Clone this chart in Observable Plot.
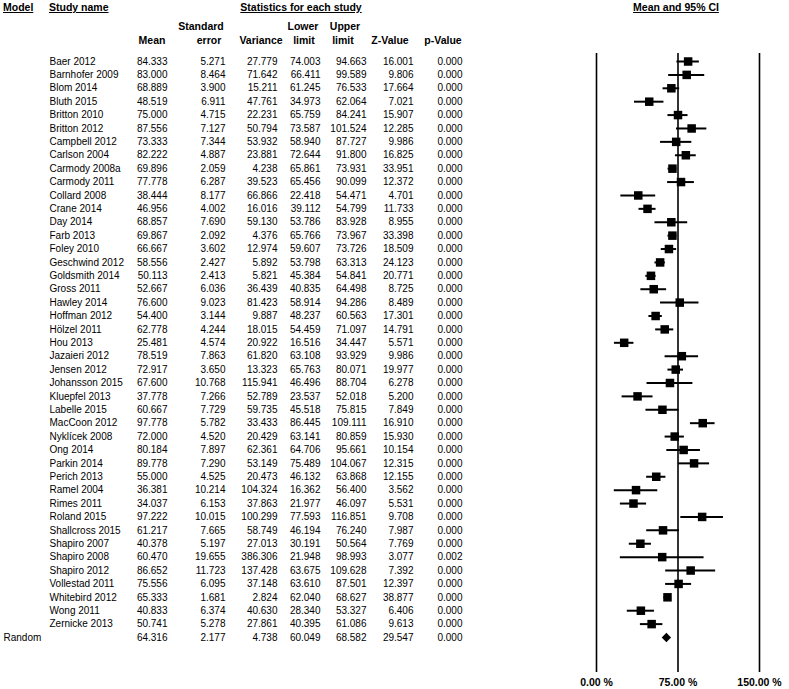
<!DOCTYPE html>
<html><head><meta charset="utf-8">
<script src="https://cdn.jsdelivr.net/npm/d3@7"></script>
<script src="https://cdn.jsdelivr.net/npm/@observablehq/plot@0.6"></script>
<style>
body{margin:0;background:#fff;font-family:"Liberation Sans",Arial,sans-serif;}
#wrap{position:relative;width:789px;height:689px;overflow:hidden;}
#hdr{position:relative;height:48px;width:789px;}
#hdr div{position:absolute;font-size:10.5px;font-weight:bold;line-height:12px;white-space:nowrap;color:#000}
#hdr .u{text-decoration:underline}
#hdr .c{transform:translateX(-50%)}
#plots{display:flex;}
#plots svg{display:block}
g[aria-label="x-axis tick label"] text{font-weight:bold;font-size:10.5px}
</style></head><body>
<div id="wrap"><div id="hdr"></div><div id="plots"></div></div>
<script>
// ---- data ----
const studies = ["Baer 2012","Barnhofer 2009","Blom 2014","Bluth 2015","Britton 2010","Britton 2012","Campbell 2012","Carlson 2004","Carmody 2008a","Carmody 2011","Collard 2008","Crane 2014","Day 2014","Farb 2013","Foley 2010","Geschwind 2012","Goldsmith 2014","Gross 2011","Hawley 2014","Hoffman 2012","Hölzel 2011","Hou 2013","Jazaieri 2012","Jensen 2012","Johansson 2015","Kluepfel 2013","Labelle 2015","MacCoon 2012","Nyklícek 2008","Ong 2014","Parkin 2014","Perich 2013","Ramel 2004","Rimes 2011","Roland 2015","Shallcross 2015","Shapiro 2007","Shapiro 2008","Shapiro 2012","Vollestad 2011","Whitebird 2012","Wong 2011","Zernicke 2013"];
const means = [84.333,83.000,68.889,48.519,75.000,87.556,73.333,82.222,69.896,77.778,38.444,46.956,68.857,69.867,66.667,58.556,50.113,52.667,76.600,54.400,62.778,25.481,78.519,72.917,67.600,37.778,60.667,97.778,72.000,80.184,89.778,55.000,36.381,34.037,97.222,61.217,40.378,60.470,86.652,75.556,65.333,40.833,50.741];
const stdErrors = [5.271,8.464,3.900,6.911,4.715,7.127,7.344,4.887,2.059,6.287,8.177,4.002,7.690,2.092,3.602,2.427,2.413,6.036,9.023,3.144,4.244,4.574,7.863,3.650,10.768,7.266,7.729,5.782,4.520,7.897,7.290,4.525,10.214,6.153,10.015,7.665,5.197,19.655,11.723,6.095,1.681,6.374,5.278];
const variances = [27.779,71.642,15.211,47.761,22.231,50.794,53.932,23.881,4.238,39.523,66.866,16.016,59.130,4.376,12.974,5.892,5.821,36.439,81.423,9.887,18.015,20.922,61.820,13.323,115.941,52.789,59.735,33.433,20.429,62.361,53.149,20.473,104.324,37.863,100.299,58.749,27.013,386.306,137.428,37.148,2.824,40.630,27.861];
const lowerLimits = [74.003,66.411,61.245,34.973,65.759,73.587,58.940,72.644,65.861,65.456,22.418,39.112,53.786,65.766,59.607,53.798,45.384,40.835,58.914,48.237,54.459,16.516,63.108,65.763,46.496,23.537,45.518,86.445,63.141,64.706,75.489,46.132,16.362,21.977,77.593,46.194,30.191,21.948,63.675,63.610,62.040,28.340,40.395];
const upperLimits = [94.663,99.589,76.533,62.064,84.241,101.524,87.727,91.800,73.931,90.099,54.471,54.799,83.928,73.967,73.726,63.313,54.841,64.498,94.286,60.563,71.097,34.447,93.929,80.071,88.704,52.018,75.815,109.111,80.859,95.661,104.067,63.868,56.400,46.097,116.851,76.240,50.564,98.993,109.628,87.501,68.627,53.327,61.086];
const zValues = [16.001,9.806,17.664,7.021,15.907,12.285,9.986,16.825,33.951,12.372,4.701,11.733,8.955,33.398,18.509,24.123,20.771,8.725,8.489,17.301,14.791,5.571,9.986,19.977,6.278,5.200,7.849,16.910,15.930,10.154,12.315,12.155,3.562,5.531,9.708,7.987,7.769,3.077,7.392,12.397,38.877,6.406,9.613];
const pValues = [0.000,0.000,0.000,0.000,0.000,0.000,0.000,0.000,0.000,0.000,0.000,0.000,0.000,0.000,0.000,0.000,0.000,0.000,0.000,0.000,0.000,0.000,0.000,0.000,0.000,0.000,0.000,0.000,0.000,0.000,0.000,0.000,0.000,0.000,0.000,0.000,0.000,0.002,0.000,0.000,0.000,0.000,0.000];
// pooled (random effects)
const pooledModel = "Random";
const pooled = {mean:64.316, se:2.177, variance:4.738, lower:60.049, upper:68.582, z:29.547, p:0.000};
const xTicks = [0, 75, 150];

// ---- rows (row index drives the vertical position) ----
const rows = studies.map((s,i)=>({row:i, model:"", study:s, mean:means[i], se:stdErrors[i], variance:variances[i], lower:lowerLimits[i], upper:upperLimits[i], z:zValues[i], p:pValues[i]}));
const pooledRow = {row:studies.length, model:pooledModel, study:"", ...pooled};
const allRows = [...rows, pooledRow];

// ---- layout ----
const H = 641;
const yScale = {domain:[0, allRows.length - 1], range:[13, 589], axis:null};
const numCols = [
  {field:"mean", x:167},{field:"se", x:225},{field:"variance", x:277},
  {field:"lower", x:320},{field:"upper", x:366},{field:"z", x:413},{field:"p", x:462}
];
const textCells = allRows.flatMap(r=>[{row:r.row, x:3, t:r.model},{row:r.row, x:49, t:r.study}]);
const numCells = allRows.flatMap(r=>numCols.map(c=>({row:r.row, x:c.x, t:r[c.field].toFixed(3)})));

const headers = [
  {t:"Model", x:3, y:7, u:true},
  {t:"Study name", x:49, y:7, u:true},
  {t:"Statistics for each study", x:301, y:7, u:true, c:true},
  {t:"Mean and 95% CI", x:676, y:7, u:true, c:true},
  {t:"Standard", x:201, y:26, c:true},
  {t:"Lower", x:303, y:26, c:true},
  {t:"Upper", x:345, y:26, c:true},
  {t:"Mean", x:152, y:40, c:true},
  {t:"error", x:209, y:40, c:true},
  {t:"Variance", x:261, y:40, c:true},
  {t:"limit", x:304, y:40, c:true},
  {t:"limit", x:343, y:40, c:true},
  {t:"Z-Value", x:390, y:40, c:true},
  {t:"p-Value", x:443, y:40, c:true}
];
const hdr = document.getElementById("hdr");
for (const h of headers) {
  const d = document.createElement("div");
  d.textContent = h.t;
  d.className = (h.u?"u ":"") + (h.c?"c":"");
  d.style.left = h.x + "px";
  d.style.top = (h.y - 6) + "px";
  hdr.appendChild(d);
}

const style = {fontFamily:'"Liberation Sans", Arial, sans-serif', fontSize:"10px", color:"#000", background:"#fff"};

const table = Plot.plot({
  width: 470, height: H, margin: 0,
  style,
  x: {type:"identity", axis:null},
  y: yScale,
  marks: [
    Plot.text(textCells, {x:"x", y:"row", text:"t", textAnchor:"start", fill:"#000"}),
    Plot.text(numCells, {x:"x", y:"row", text:"t", textAnchor:"end", fill:"#000"})
  ]
});

const forest = Plot.plot({
  width: 319, height: H,
  marginLeft: 126, marginRight: 30, marginTop: 5, marginBottom: 17,
  style,
  x: {domain:[0,150], axis:null},
  y: yScale,
  marks: [
    Plot.ruleX(xTicks, {stroke:"#000", strokeWidth:1.6}),
    Plot.ruleY(rows, {y:"row", x1:"lower", x2:"upper", stroke:"#000", strokeWidth:2}),
    Plot.dot(rows, {y:"row", x:"mean", symbol:"square", r:4.8, fill:"#000", stroke:null}),
    Plot.dot([pooledRow], {y:"row", x:"mean", symbol:"diamond2", r:4.2, fill:"#000", stroke:null}),
    Plot.axisX(xTicks, {tickSize:0, tickPadding:6, tickFormat:d=>d.toFixed(2)+" %", fill:"#000"})
  ]
});

const plots = document.getElementById("plots");
plots.appendChild(table);
plots.appendChild(forest);
</script>
</body></html>
